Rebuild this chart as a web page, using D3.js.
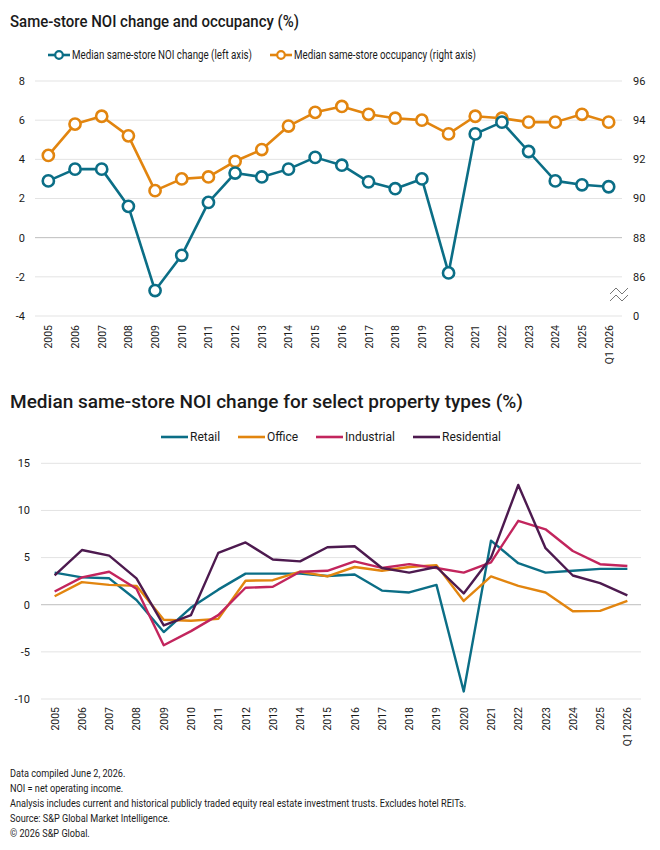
<!DOCTYPE html>
<meta charset="utf-8">
<script src="https://d3js.org/d3.v7.min.js"></script>
<style>
  body { margin: 0; background: #fff; }
  svg { font-family: Roboto, "Noto Sans", sans-serif; }
</style>
<svg id="chart" width="660" height="850"></svg>
<script>

// ---- data ----
var years = ["2005","2006","2007","2008","2009","2010","2011","2012","2013","2014","2015",
             "2016","2017","2018","2019","2020","2021","2022","2023","2024","2025","Q1 2026"];

// top chart
var noiChange = [2.9, 3.5, 3.5, 1.6, -2.7, -0.9, 1.8, 3.3, 3.1, 3.5, 4.1,
                 3.7, 2.85, 2.5, 3.0, -1.8, 5.3, 5.9, 4.4, 2.9, 2.7, 2.6];
var occupancy = [92.2, 93.8, 94.2, 93.2, 90.4, 91.0, 91.1, 91.9, 92.5, 93.7, 94.4,
                 94.7, 94.3, 94.1, 94.0, 93.3, 94.2, 94.1, 93.9, 93.9, 94.3, 93.9];
var leftTicks = [-4, -2, 0, 2, 4, 6, 8];
var rightTicks = [84, 86, 88, 90, 92, 94, 96];
var rightTickLabels = ["0", "86", "88", "90", "92", "94", "96"];

// bottom chart
var retail      = [3.4, 2.9, 2.8, 0.5, -2.9, -0.3, 1.6, 3.3, 3.3, 3.3, 3.05,
                   3.2, 1.5, 1.3, 2.1, -9.2, 6.8, 4.4, 3.4, 3.6, 3.8, 3.8];
var office      = [0.9, 2.4, 2.1, 2.0, -1.6, -1.7, -1.5, 2.55, 2.6, 3.5, 3.0,
                   4.0, 3.6, 4.0, 4.2, 0.4, 3.0, 2.0, 1.3, -0.7, -0.65, 0.4];
var industrial  = [1.4, 2.9, 3.5, 1.7, -4.3, -2.8, -1.1, 1.8, 1.9, 3.5, 3.6,
                   4.6, 3.9, 4.3, 3.9, 3.4, 4.5, 8.9, 8.0, 5.7, 4.3, 4.1];
var residential = [3.1, 5.8, 5.2, 2.8, -2.2, -1.1, 5.5, 6.6, 4.8, 4.6, 6.1,
                   6.2, 3.9, 3.4, 4.0, 1.2, 5.0, 12.7, 6.0, 3.1, 2.3, 1.0];
var bottomTicks = [-10, -5, 0, 5, 10, 15];

var footnotes = [
  "Data compiled June 2, 2026.",
  "NOI = net operating income.",
  "Analysis includes current and historical publicly traded equity real estate investment trusts. Excludes hotel REITs.",
  "Source: S&P Global Market Intelligence.",
  "\u00A9 2026 S&P Global."
];

var TEAL = "#0b6e86", ORANGE = "#e2850f", CRIMSON = "#c2255d", PURPLE = "#4d1a4f";
var GRID = "#e3e3e3", ZERO = "#bdbdbd", TXT = "#1a1a1a";

var svg = d3.select("#chart");

// squeeze text horizontally (the original font is narrower than Roboto)
function condense(sel, k) {
  sel.each(function() {
    var w = this.getComputedTextLength();
    d3.select(this).attr("textLength", w * k).attr("lengthAdjust", "spacingAndGlyphs");
  });
}

// ---- top chart ----
svg.append("text")
    .attr("x", 10).attr("y", 27)
    .attr("font-size", 17).attr("font-weight", 500).attr("fill", TXT)
    .attr("textLength", 289).attr("lengthAdjust", "spacingAndGlyphs")
    .text("Same-store NOI change and occupancy (%)");

var x1 = d3.scalePoint().domain(years).range([35, 622]).padding(0.5);
var yL = d3.scaleLinear().domain([-4, 8]).range([316, 81]);
var yR = d3.scaleLinear().domain([84, 96]).range([316, 81]);

var gTop = svg.append("g");

gTop.selectAll(".grid")
  .data(leftTicks)
  .enter().append("line")
    .attr("x1", 35).attr("x2", 622)
    .attr("y1", function(d){ return yL(d) }).attr("y2", function(d){ return yL(d) })
    .attr("stroke", function(d){ return d == 0 ? ZERO : GRID })
    .attr("stroke-width", 1);

gTop.selectAll(".ltick")
  .data(leftTicks)
  .enter().append("text")
    .attr("x", 25).attr("y", function(d){ return yL(d) })
    .attr("dy", "0.35em").attr("text-anchor", "end")
    .attr("font-size", 11).attr("fill", TXT)
    .text(function(d){ return d });

gTop.selectAll(".rtick")
  .data(rightTicks)
  .enter().append("text")
    .attr("x", 633).attr("y", function(d){ return yR(d) })
    .attr("dy", "0.35em")
    .attr("font-size", 11).attr("fill", TXT)
    .text(function(d, i){ return rightTickLabels[i] });

// axis break mark
[291, 298].forEach(function(yy) {
  gTop.append("path")
    .attr("d", "M610," + (yy + 3) + "L616," + (yy - 3) + "L622," + (yy + 3) + "L628," + (yy - 3))
    .attr("fill", "none").attr("stroke", "#777").attr("stroke-width", 1);
});

gTop.selectAll(".xlab")
  .data(years)
  .enter().append("text")
    .attr("transform", function(d){ return "translate(" + (x1(d) + 4) + ",325) rotate(-90)" })
    .attr("text-anchor", "end")
    .attr("font-size", 10.5).attr("fill", TXT)
    .text(function(d){ return d });

function drawMarkerSeries(g, vals, yScale, color) {
  var line = d3.line()
    .x(function(d, i){ return x1(years[i]) })
    .y(function(d){ return yScale(d) });
  g.append("path")
    .datum(vals)
    .attr("d", line)
    .attr("fill", "none").attr("stroke", color).attr("stroke-width", 2.6)
    .attr("stroke-linejoin", "round");
  g.selectAll(null)
    .data(vals)
    .enter().append("circle")
      .attr("cx", function(d, i){ return x1(years[i]) })
      .attr("cy", function(d){ return yScale(d) })
      .attr("r", 5.6)
      .attr("fill", "#fff").attr("stroke", color).attr("stroke-width", 2.6);
}
drawMarkerSeries(gTop.append("g"), occupancy, yR, ORANGE);
drawMarkerSeries(gTop.append("g"), noiChange, yL, TEAL);

// top legend
var legTop = [
  {label: "Median same-store NOI change (left axis)", color: TEAL, x: 48, w: 180},
  {label: "Median same-store occupancy (right axis)", color: ORANGE, x: 270, w: 182}
];
var lt = gTop.selectAll(".leg").data(legTop).enter().append("g")
  .attr("transform", function(d){ return "translate(" + d.x + ",55)" });
lt.append("line").attr("x1", 0).attr("x2", 22)
  .attr("stroke", function(d){ return d.color }).attr("stroke-width", 2.6);
lt.append("circle").attr("cx", 11).attr("r", 3.8)
  .attr("fill", "#fff").attr("stroke", function(d){ return d.color }).attr("stroke-width", 2.2);
lt.append("text").attr("x", 24).attr("dy", "0.35em")
  .attr("font-size", 12).attr("fill", TXT)
  .attr("textLength", function(d){ return d.w }).attr("lengthAdjust", "spacingAndGlyphs")
  .text(function(d){ return d.label });

// ---- bottom chart ----
svg.append("text")
    .attr("x", 10).attr("y", 408)
    .attr("font-size", 18).attr("font-weight", 500).attr("fill", TXT)
    .attr("textLength", 513).attr("lengthAdjust", "spacingAndGlyphs")
    .text("Median same-store NOI change for select property types (%)");

var x2 = d3.scalePoint().domain(years).range([41, 641]).padding(0.5);
var y2 = d3.scaleLinear().domain([-10, 15]).range([699, 463.3]);

var bot = svg.append("g");

bot.selectAll(".grid")
  .data(bottomTicks)
  .enter().append("line")
    .attr("x1", 41).attr("x2", 641)
    .attr("y1", function(d){ return y2(d) }).attr("y2", function(d){ return y2(d) })
    .attr("stroke", function(d){ return d == 0 ? ZERO : GRID })
    .attr("stroke-width", 1);

bot.selectAll(".ytick")
  .data(bottomTicks)
  .enter().append("text")
    .attr("x", 30).attr("y", function(d){ return y2(d) })
    .attr("dy", "0.35em").attr("text-anchor", "end")
    .attr("font-size", 11).attr("fill", TXT)
    .text(function(d){ return d });

bot.selectAll(".xlab")
  .data(years)
  .enter().append("text")
    .attr("transform", function(d){ return "translate(" + (x2(d) + 4) + ",707) rotate(-90)" })
    .attr("text-anchor", "end")
    .attr("font-size", 10.5).attr("fill", TXT)
    .text(function(d){ return d });

var series = [
  {name: "Retail", values: retail, color: TEAL, lx: 161},
  {name: "Office", values: office, color: ORANGE, lx: 238},
  {name: "Industrial", values: industrial, color: CRIMSON, lx: 316},
  {name: "Residential", values: residential, color: PURPLE, lx: 413}
];

var line2 = d3.line()
  .x(function(d, i){ return x2(years[i]) })
  .y(function(d){ return y2(d) });

bot.selectAll(".series")
  .data(series)
  .enter().append("path")
    .attr("d", function(d){ return line2(d.values) })
    .attr("fill", "none")
    .attr("stroke", function(d){ return d.color })
    .attr("stroke-width", 2.4)
    .attr("stroke-linejoin", "round");

var lb = bot.selectAll(".leg").data(series).enter().append("g")
  .attr("transform", function(d){ return "translate(" + d.lx + ",437)" });
lb.append("line").attr("x1", 0).attr("x2", 27)
  .attr("stroke", function(d){ return d.color }).attr("stroke-width", 2.6);
lb.append("text").attr("x", 29).attr("dy", "0.35em")
  .attr("font-size", 12).attr("fill", TXT)
  .text(function(d){ return d.name });

// ---- footnotes ----
var foot = svg.selectAll(".foot")
  .data(footnotes)
  .enter().append("text")
    .attr("x", 10).attr("y", function(d, i){ return 777 + i * 15 })
    .attr("font-size", 10.5).attr("fill", TXT)
    .text(function(d){ return d });
condense(foot, 0.87);

</script>
